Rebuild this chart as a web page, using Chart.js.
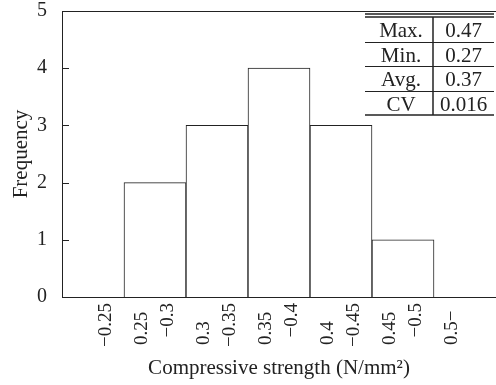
<!DOCTYPE html>
<html><head><meta charset="utf-8">
<script src="https://cdn.jsdelivr.net/npm/chart.js@4.4.1/dist/chart.umd.min.js"></script>
<style>html,body{margin:0;padding:0;background:#fff;} canvas{display:block;}</style>
</head><body>
<canvas id="c" width="496" height="385"></canvas>
<script>
const categories = ["−0.25", "0.25−0.3", "0.3−0.35", "0.35−0.4", "0.4−0.45", "0.45−0.5", "0.5−"];
const frequency = [0, 2, 3, 4, 3, 1, 0];
const yTicks = [0, 1, 2, 3, 4, 5];
const statNames = ["Max.", "Min.", "Avg.", "CV"];
const statValues = ["0.47", "0.27", "0.37", "0.016"];
const xTitle = "Compressive strength (N/mm²)";
const yTitle = "Frequency";

const SERIF = '"Liberation Serif","DejaVu Serif",serif';
const INK = '#222';

function splitLabel(s) {
  if (s.startsWith('−')) return ['', s];
  if (s.endsWith('−')) return [s, ''];
  const k = s.indexOf('−');
  return [s.slice(0, k), s.slice(k)];
}

const decor = {
  id: 'decor',
  afterDraw(chart) {
    const ctx = chart.ctx, a = chart.chartArea;
    const xs = chart.scales.x, ys = chart.scales.y;
    ctx.save();
    ctx.strokeStyle = INK; ctx.lineWidth = 1;
    // top frame line
    ctx.beginPath(); ctx.moveTo(a.left, a.top + 0.5); ctx.lineTo(a.right, a.top + 0.5); ctx.stroke();
    // inward y ticks
    yTicks.forEach(v => {
      const py = Math.round(ys.getPixelForValue(v)) + 0.5;
      ctx.beginPath(); ctx.moveTo(a.left, py); ctx.lineTo(a.left + 7, py); ctx.stroke();
    });
    // x category labels (two lines, rotated)
    ctx.fillStyle = INK; ctx.font = '19px ' + SERIF; ctx.textBaseline = 'middle';
    categories.forEach((c, i) => {
      const px = xs.getPixelForValue(i);
      const [l1, l2] = splitLabel(c);
      if (l1) { ctx.save(); ctx.translate(px - 13, a.bottom + 48); ctx.rotate(-Math.PI / 2); ctx.textAlign = 'left'; ctx.fillText(l1, 0, 0); ctx.restore(); }
      if (l2) { ctx.save(); ctx.translate(px + 13, a.bottom + 6); ctx.rotate(-Math.PI / 2); ctx.textAlign = 'right'; ctx.fillText(l2, 0, 0); ctx.restore(); }
    });
    // statistics table
    const tR = a.right - 2, tL = tR - 129, tD = tR - 61;
    const t0 = a.top + 6, rowH = 24.5;
    ctx.lineWidth = 1.5;
    ctx.beginPath(); ctx.moveTo(tL, a.top + 3); ctx.lineTo(tR, a.top + 3); ctx.stroke();
    ctx.beginPath(); ctx.moveTo(tL, t0); ctx.lineTo(tR, t0); ctx.stroke();
    ctx.lineWidth = 1;
    for (let r = 1; r < statNames.length; r++) {
      const yy = Math.round(t0 + r * rowH) + 0.5;
      ctx.beginPath(); ctx.moveTo(tL, yy); ctx.lineTo(tR, yy); ctx.stroke();
    }
    ctx.lineWidth = 1.5;
    const tB = t0 + statNames.length * rowH;
    ctx.beginPath(); ctx.moveTo(tL, tB); ctx.lineTo(tR, tB); ctx.stroke();
    ctx.beginPath(); ctx.moveTo(tD, t0); ctx.lineTo(tD, tB); ctx.stroke();
    ctx.font = '21px ' + SERIF; ctx.textBaseline = 'alphabetic'; ctx.textAlign = 'center';
    statNames.forEach((n, r) => {
      const by = t0 + r * rowH + 20;
      ctx.fillText(n, (tL + tD) / 2 + 2, by);
      ctx.fillText(statValues[r], (tD + tR) / 2, by);
    });
    ctx.restore();
  }
};

new Chart(document.getElementById('c'), {
  type: 'bar',
  data: {
    labels: categories,
    datasets: [{
      data: frequency,
      backgroundColor: '#ffffff',
      borderColor: INK,
      borderWidth: 1,
      barPercentage: 1,
      categoryPercentage: 1
    }]
  },
  options: {
    responsive: false,
    animation: false,
    layout: { padding: { top: 11, right: 0, bottom: 0, left: 0 } },
    plugins: { legend: { display: false }, tooltip: { enabled: false } },
    scales: {
      x: {
        grid: { display: false },
        border: { display: true, color: INK, width: 1 },
        ticks: { display: false },
        title: { display: true, text: xTitle, color: INK, font: { family: SERIF, size: 21 }, padding: 4 },
        afterFit(s) { s.height = 88; s.paddingLeft = 0; s.paddingRight = 0; }
      },
      y: {
        min: 0, max: 5,
        grid: { display: false },
        border: { display: true, color: INK, width: 1 },
        ticks: { stepSize: 1, padding: 7, color: INK, font: { family: SERIF, size: 20 } },
        title: { display: true, text: yTitle, color: INK, font: { family: SERIF, size: 21 }, padding: 9 },
        afterFit(s) { s.width = 62; s.paddingTop = 0; s.paddingBottom = 0; }
      }
    }
  },
  plugins: [decor]
});
</script>
</body></html>
